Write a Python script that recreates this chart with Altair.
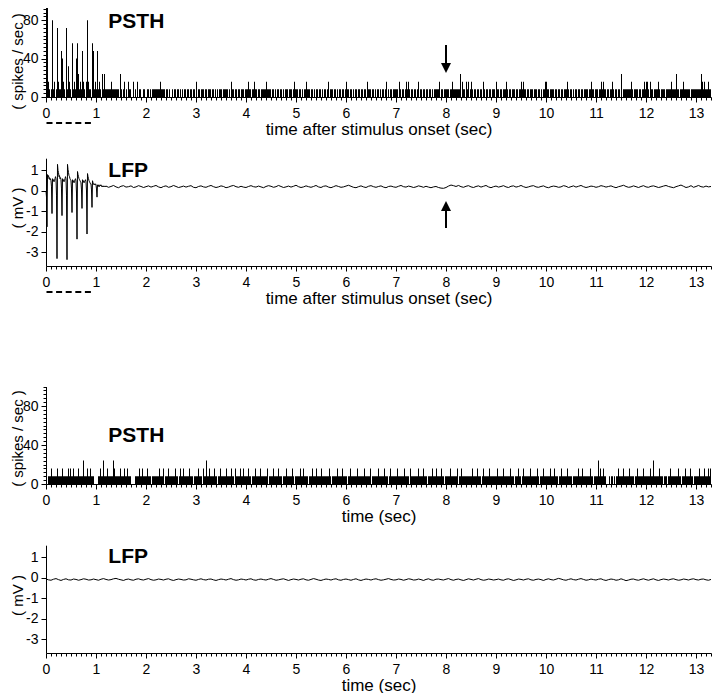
import altair as alt
import numpy as np
import pandas as pd

FONT = "Liberation Sans"
BIN = 0.02          # PSTH bin width (s)
SPIKE_RATE = 8      # spikes/sec per spike in one bin
X_MAX = 13.3

# ---------------- PSTH (stimulated), counts per 0.02 s bin ----------------
PSTH1_EARLY = [1, 12, 2, 1, 0, 1, 10, 1, 2, 0,
               1, 9, 2, 1, 1, 6, 5, 2, 1, 0,
               9, 1, 4, 2, 1, 0, 7, 1, 2, 1,
               5, 7, 3, 1, 2, 1, 6, 2, 1, 0,
               2, 10, 2, 1, 1, 0, 7, 6, 1, 2]
PSTH1_REST = [
    "1612103131" "1111121111" "1110310120" "1021100201" "0201100110",
    "0110101111" "1111211110" "1101001011" "0110101011" "0110110110",
    "2011011101" "1011101101" "0101110111" "1101021101" "1011011101",
    "1121101121" "1011011111" "2111101101" "0110110101" "1101110121",
    "1101101011" "2111011010" "1101101011" "0120111011" "0101101101",
    "2110110101" "1011011011" "0211101101" "0110101101" "2010110111",
    "1102101101" "2121011011" "0120110110" "1101101011" "1112011011",
    "1110112111" "1111302110" "2120121011" "0110110210" "1101101110",
    "2110110111" "2101101110" "1101121211" "0110111011" "1011010112",
    "2110111101" "1011011011" "1210110101" "1011011011" "1101121101",
    "1101121211" "0110112101" "1011030111" "1111121011" "1101101121",
    "2210211011" "1121011110" "1111121111" "3110111211" "1111011111",
    "111113212111211",
]

# ---------------- PSTH (spontaneous) ----------------
PSTH2 = [
    "0011121111" "1211112111" "1121211211" "1121111311" "1211211100",
    "0011211311" "1211111321" "1111211121" "1211100001" "1112112111",
    "1211101111" "1112111201" "1121111112" "1101211211" "1112111011",
    "1121110211" "3112111121" "1011211111" "2111121102" "1111211211",
    "1121101112" "1111211111" "1201111211" "1121110111" "2111112101",
    "1111211211" "1101112111" "2111121111" "1112101111" "1211112111",
    "1011211111" "1211111121" "1111201111" "1121111121" "1101211111",
    "1211111121" "1110211111" "1121111211" "1011112111" "2111121101",
    "1111211111" "1201121111" "1111112111" "1211101211" "1112111111",
    "1211111211" "1111211101" "1121101211" "1111211111" "1210111211",
    "1111211121" "1101121111" "1211110111" "1121112111" "1111211011",
    "1131211211" "0001011010" "1121111211" "1112111101" "1211111211",
    "1111211311" "1112111011" "1011211111" "1121101112" "1111211011",
    "111211112111212",
]

# ---------------- LFP (stimulated): 0-1.19 s every 0.01 s, mV ----------------
LFP1_EARLY = [
    0.0, -0.3, -1.75, 0.8, 0.7, 0.75, 0.6, 0.65, 0.55, 0.6,
    0.5, 0.2, -1.1, 0.6, 0.5, 0.55, 0.45, 0.5, 0.6, 0.7,
    0.6, -0.2, -3.3, 1.3, 1.0, 0.9, 0.7, 0.75, 0.6, 0.65,
    0.55, 0.1, -1.2, 0.6, 0.5, 0.55, 0.45, 0.5, 0.6, 0.7,
    0.6, -0.2, -3.35, 1.3, 1.05, 0.9, 0.75, 0.7, 0.6, 0.55,
    0.5, 0.1, -1.05, 0.55, 0.45, 0.5, 0.4, 0.45, 0.55, 0.6,
    0.5, -0.1, -2.35, 0.95, 0.8, 0.7, 0.6, 0.55, 0.5, 0.45,
    0.4, 0.05, -0.85, 0.55, 0.45, 0.5, 0.4, 0.45, 0.5, 0.55,
    0.45, 0.0, -2.1, 0.85, 0.7, 0.6, 0.5, 0.45, 0.4, 0.35,
    0.35, 0.05, -0.8, 0.5, 0.4, 0.35, 0.3, 0.35, 0.3, 0.35,
    0.3, 0.1, -0.3, 0.3, 0.25, 0.3, 0.2, 0.25, 0.3, 0.25,
    0.3, 0.25, 0.2, 0.25, 0.2, 0.25, 0.2, 0.22, 0.25, 0.2,
]
# 1.20-13.30 s every 0.05 s, hundredths of mV
LFP1_BASE = [
    24, 18, 22, 27, 20, 16, 23, 26, 19, 21, 25, 17, 20, 26, 22, 17, 21, 25, 19, 23,
    27, 20, 16, 22, 25, 18, 21, 27, 22, 17, 20, 24, 19, 23, 26, 18, 16, 22, 25, 20,
    18, 23, 27, 21, 17, 20, 25, 22, 16, 19, 24, 27, 21, 18, 23, 19, 17, 22, 26, 21,
    19, 24, 20, 16, 22, 26, 23, 18, 21, 27, 22, 17, 20, 24, 19, 23, 28, 21, 17, 20,
    25, 21, 18, 22, 27, 20, 17, 23, 25, 19, 16, 21, 26, 22, 18, 20, 24, 28, 23, 18,
    16, 21, 25, 20, 17, 23, 26, 21, 18, 22, 25, 19, 16, 22, 24, 20, 18, 23, 27, 21,
    19, 24, 21, 17, 20, 25, 22, 18, 23, 19, 16, 20, 22, 17, 14, 13, 17, 24, 29, 26,
    22, 27, 21, 18, 23, 26, 20, 17, 22, 25, 19, 23, 27, 20, 16, 21, 24, 19, 22, 26,
    20, 17, 23, 25, 19, 22, 27, 21, 17, 20, 24, 26, 20, 18, 22, 25, 19, 16, 21, 24,
    22, 18, 20, 26, 23, 17, 21, 25, 19, 23, 27, 21, 17, 20, 24, 22, 18, 21, 26, 23,
    19, 22, 25, 20, 16, 21, 24, 28, 22, 18, 20, 25, 21, 17, 22, 26, 20, 18, 23, 25,
    21, 17, 20, 24, 27, 22, 19, 16, 21, 25, 29, 23, 17, 20, 26, 18, 22, 27, 21, 19,
    24, 20, 22,
]
# ---------------- LFP (spontaneous): 0-13.30 s every 0.05 s, hundredths of mV ----------------
LFP2 = [
    -5, -9, -11, -6, -3, -8, -12, -7, -4, -9, -10, -5, -7, -11, -8, -4, -6, -10, -9, -5,
    -8, -11, -6, -3, -7, -10, -8, -4, -2, -6, -9, -12, -7, -5, -9, -11, -6, -4, -8, -10,
    -6, -3, -8, -11, -9, -5, -7, -10, -6, -4, -9, -12, -8, -5, -7, -10, -9, -4, -6, -9,
    -11, -7, -4, -8, -10, -6, -5, -9, -12, -8, -5, -7, -10, -6, -3, -8, -11, -9, -5, -7,
    -10, -6, -4, -9, -11, -7, -5, -8, -10, -6, -3, -7, -11, -9, -6, -4, -8, -12, -8, -5,
    -7, -10, -6, -4, -9, -11, -7, -3, -6, -10, -12, -8, -5, -7, -10, -6, -4, -9, -11, -7,
    -5, -8, -11, -7, -4, -9, -12, -8, -5, -7, -10, -6, -4, -8, -11, -9, -6, -3, -7, -10,
    -9, -5, -7, -11, -8, -4, -6, -10, -9, -5, -8, -12, -7, -4, -9, -11, -6, -5, -8, -10,
    -6, -3, -8, -11, -7, -5, -9, -12, -8, -4, -7, -10, -6, -3, -8, -11, -9, -5, -7, -10,
    -8, -5, -9, -11, -6, -4, -8, -12, -9, -5, -7, -10, -6, -4, -9, -11, -7, -5, -8, -12,
    -7, -4, -8, -10, -6, -2, -5, -9, -11, -7, -4, -8, -10, -6, -3, -7, -11, -9, -5, -8,
    -10, -6, -4, -9, -12, -8, -5, -7, -11, -9, -4, -8, -13, -10, -6, -5, -9, -11, -7, -4,
    -8, -11, -7, -4, -9, -12, -8, -5, -7, -10, -6, -4, -8, -11, -9, -5, -7, -10, -6, -4,
    -8, -10, -6, -5, -9, -11, -7,
]


def counts_from(strings):
    return [int(c) for s in strings for c in s]


def psth_df(counts):
    t = np.arange(len(counts)) * BIN
    df = pd.DataFrame({"t": t, "t2": t + BIN, "rate": np.array(counts) * SPIKE_RATE})
    return df[df["rate"] > 0]


p1 = psth_df(PSTH1_EARLY + counts_from(PSTH1_REST))
p3 = psth_df(counts_from(PSTH2))
lfp1 = pd.DataFrame({
    "t": np.concatenate([np.arange(len(LFP1_EARLY)) * 0.01, 1.2 + np.arange(len(LFP1_BASE)) * 0.05]),
    "v": np.concatenate([np.array(LFP1_EARLY), np.array(LFP1_BASE) / 100.0]),
})
lfp2 = pd.DataFrame({"t": np.arange(len(LFP2)) * 0.05, "v": np.array(LFP2) / 100.0})

W, H = 665, 645
xscale = alt.Scale(domain=[0, X_MAX], nice=False, zero=False)
X_TICKS = [round(i * 0.1, 1) for i in range(134)]
INT_TEST = "abs(datum.value - round(datum.value)) < 0.01"
YTITLE_X = -23.5
YTITLE_SIZE = 15


def x_axis(title, offset):
    return alt.Axis(
        title=title, orient="bottom", offset=offset, values=X_TICKS,
        labelExpr=INT_TEST + " ? format(datum.value, 'd') : ''",
        tickSize={"condition": {"test": INT_TEST, "value": 5}, "value": 3},
        labelPadding=4, labelFlush=False, labelOverlap=False, labelBound=False,
        titleY=37, titleBaseline="alphabetic", grid=False,
    )


def psth_y_axis(title_y):
    return alt.Axis(
        title="( spikes / sec )", orient="left", values=list(range(0, 101, 4)),
        labelExpr="datum.value % 40 == 0 ? format(datum.value, 'd') : ''",
        tickSize={"condition": {"test": "datum.value % 40 == 0", "value": 5}, "value": 3},
        labelPadding=3, labelOverlap=False, labelFlush=False, labelBound=False,
        titleX=YTITLE_X, titleY=title_y, titleAngle=270, titleBaseline="alphabetic", titleAlign="center",
        titleFontSize=YTITLE_SIZE, grid=False,
    )


def lfp_y_axis(title_y):
    return alt.Axis(
        title="( mV )", orient="left", values=[-3, -2, -1, 0, 1],
        labelExpr="datum.value < 0 ? '-' + format(-datum.value, 'd') : format(datum.value, 'd')",
        tickSize=5, labelPadding=3, labelOverlap=False, labelFlush=False, labelBound=False,
        titleX=YTITLE_X, titleY=title_y, titleAngle=270, titleBaseline="alphabetic", titleAlign="center",
        titleFontSize=YTITLE_SIZE, grid=False,
    )


L1 = "time after stimulus onset (sec)"
L2 = "time (sec)"

bars1 = alt.Chart(p1).mark_bar(color="black").encode(
    x=alt.X("t:Q", scale=xscale, axis=x_axis(L1, -556)),
    x2="t2:Q",
    y=alt.Y("rate:Q", scale=alt.Scale(domain=[0, 100], range=[89, -7]), axis=psth_y_axis(53)),
    y2=alt.Y2(datum=0),
)
line1 = alt.Chart(lfp1).mark_line(color="black", strokeWidth=1).encode(
    x=alt.X("t:Q", scale=xscale, axis=x_axis(L1, -387)),
    y=alt.Y("v:Q", scale=alt.Scale(domain=[-3.66, 1.6], range=[258, 150.2]), axis=lfp_y_axis(199.5)),
)
bars3 = alt.Chart(p3).mark_bar(color="black").encode(
    x=alt.X("t:Q", scale=xscale, axis=x_axis(L2, -169)),
    x2="t2:Q",
    y=alt.Y("rate:Q", scale=alt.Scale(domain=[0, 100], range=[476, 378.5]), axis=psth_y_axis(430)),
    y2=alt.Y2(datum=0),
)
line4 = alt.Chart(lfp2).mark_line(color="black", strokeWidth=1).encode(
    x=alt.X("t:Q", scale=xscale, axis=x_axis(L2, 0)),
    y=alt.Y("v:Q", scale=alt.Scale(domain=[-3.66, 1.6], range=[645, 537.2]), axis=lfp_y_axis(587)),
)

one = pd.DataFrame({"k": [0]})
ARROW_T = 8
STIM_START, STIM_END = 0.01, 0.9

deco = []
# stimulus-train dashed bars under the time axes
for yy in (115, 284):
    deco.append(alt.Chart(one).mark_rule(color="black", strokeWidth=2, strokeDash=[6, 3.6]).encode(
        x=alt.X(datum=STIM_START, scale=xscale, axis=None), x2=alt.X2(datum=STIM_END), y=alt.value(yy)))
# arrows at 8 s
deco.append(alt.Chart(one).mark_rule(color="black", strokeWidth=2).encode(
    x=alt.X(datum=ARROW_T, scale=xscale, axis=None), y=alt.value(37), y2=alt.value(58)))
deco.append(alt.Chart(one).mark_point(shape="M-1,-1L1,-1L0,1Z", filled=True, size=100, color="black", opacity=1).encode(
    x=alt.X(datum=ARROW_T, scale=xscale, axis=None), y=alt.value(60)))
deco.append(alt.Chart(one).mark_rule(color="black", strokeWidth=2).encode(
    x=alt.X(datum=ARROW_T, scale=xscale, axis=None), y=alt.value(200), y2=alt.value(220)))
deco.append(alt.Chart(one).mark_point(shape="M-1,1L1,1L0,-1Z", filled=True, size=100, color="black", opacity=1).encode(
    x=alt.X(datum=ARROW_T, scale=xscale, axis=None), y=alt.value(198)))

# panel labels
for txt, yy in (("PSTH", 19.5), ("LFP", 169.3), ("PSTH", 433.7), ("LFP", 555.3)):
    deco.append(alt.Chart(one).mark_text(
        text=txt, font=FONT, fontSize=21, fontWeight="bold", align="left", baseline="alphabetic", color="black"
    ).encode(x=alt.value(62.3), y=alt.value(yy)))

chart = alt.layer(bars1, line1, bars3, line4, *deco).resolve_scale(
    y="independent"
).resolve_axis(
    x="independent", y="independent"
).properties(
    width=W, height=H,
    autosize=alt.AutoSizeParams(type="none"),
    padding={"left": 38, "top": 0, "right": 1, "bottom": 40},
).configure_view(stroke=None).configure_axis(
    domainColor="black", tickColor="black", labelColor="black", titleColor="black",
    labelFont=FONT, titleFont=FONT, labelFontSize=14, titleFontSize=17, titleFontWeight="normal",
    domainWidth=1, tickWidth=1, grid=False,
)

chart.save("out.html", embed_options={"renderer": "svg", "actions": False})
